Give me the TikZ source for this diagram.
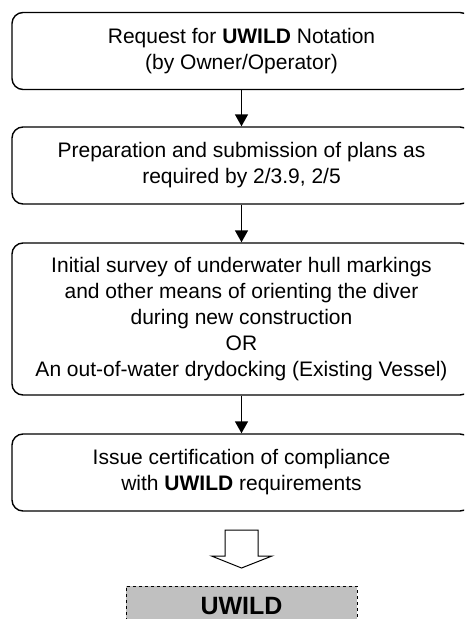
\documentclass[tikz,border=0pt]{standalone}
\usepackage{fontspec}
\setmainfont{Liberation Sans}
\usetikzlibrary{arrows.meta}
\definecolor{uwgray}{HTML}{C0C0C0}
\begin{document}
\begin{tikzpicture}[x=1pt,y=-1pt,
  flowbox/.style={draw, line width=1.4pt, rounded corners=11pt, minimum width=459pt,
    align=center, font=\fontsize{21}{26}\selectfont, inner sep=0pt},
  flowarrow/.style={line width=1.4pt, -{Triangle[width=13pt,length=12pt]}},
  blockarrow/.style={draw, line width=1pt, fill=white, line join=miter},
  resultbox/.style={draw, dashed, line width=0.8pt, fill=uwgray, minimum width=231pt,
    minimum height=40pt, font=\fontsize{25}{30}\selectfont\bfseries, inner sep=0pt}]
\useasboundingbox (0,0) rectangle (464,619);
\clip (0,0) rectangle (464,619);
\node[flowbox, minimum height=77pt] (b1) at (241.5,51)
  {Request for \textbf{UWILD} Notation\\(by Owner/Operator)};
\node[flowbox, minimum height=77pt] (b2) at (241.5,165.5)
  {Preparation and submission of plans as\\required by 2/3.9, 2/5};
\node[flowbox, minimum height=152pt] (b3) at (241.5,319)
  {Initial survey of underwater hull markings\\and other means of orienting the diver\\during new construction\\OR\\An out-of-water drydocking (Existing Vessel)};
\node[flowbox, minimum height=77pt] (b4) at (241.5,472.5)
  {Issue certification of compliance\\with \textbf{UWILD} requirements};
\node[resultbox] (uw) at (241.5,606) {UWILD};
\draw[flowarrow] (b1) -- (b2);
\draw[flowarrow] (b2) -- (b3);
\draw[flowarrow] (b3) -- (b4);
\draw[blockarrow] (225,530) -- (258,530) -- (258,556) -- (272,556) -- (241.5,568)
  -- (211.5,556) -- (225,556) -- cycle;
\end{tikzpicture}
\end{document}
